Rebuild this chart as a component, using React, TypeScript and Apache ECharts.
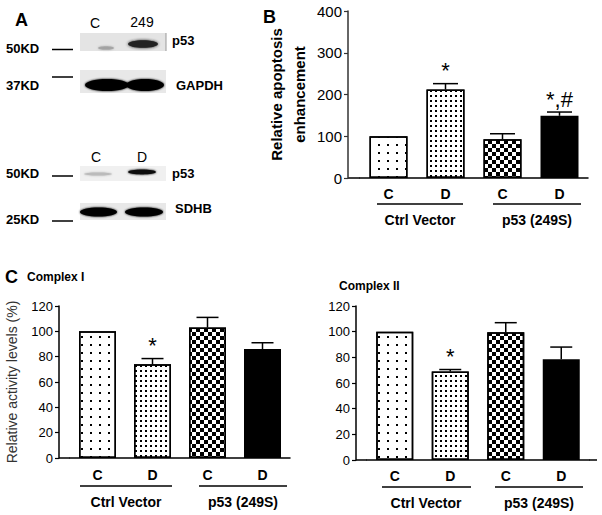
import React, { useEffect, useRef } from "react";
import * as echarts from "echarts";

const FONT = '"Liberation Sans", Arial, Helvetica, sans-serif';

// ---------- data ----------
const categories = ["C", "D", "C", "D"];
const groups = ["Ctrl Vector", "p53 (249S)"];

const apoptosisMean = [100, 212, 93, 149];
const apoptosisErr = [0, 14, 13, 9];
const apoptosisMarks = ["", "*", "", "*,#"];

const complexIMean = [100, 74, 103, 86];
const complexIErr = [0, 4.5, 8, 5];
const complexIMarks = ["", "*", "", ""];

const complexIIMean = [100, 69, 99.5, 78.5];
const complexIIErr = [0, 1.5, 7.5, 9.5];
const complexIIMarks = ["", "*", "", ""];

const apoptosisTicks = { min: 0, max: 400, interval: 100 };
const activityTicks = { min: 0, max: 120, interval: 20 };

// ---------- styles ----------
const sparseDots = { symbol: "rect", symbolSize: 1, dashArrayX: [2, 7], dashArrayY: [2, 6], color: "#000" };
const denseDots = { symbol: "rect", symbolSize: 1, dashArrayX: [1.3, 2.2], dashArrayY: [1.3, 2.2], color: "#000" };
const checker = { symbol: "rect", symbolSize: 1, dashArrayX: [[4, 4], [0, 4, 4, 0]], dashArrayY: [4, 0], color: "#000" };

const barStyles = [
  { color: "#fff", borderColor: "#000", borderWidth: 1.5, decal: sparseDots },
  { color: "#fff", borderColor: "#000", borderWidth: 1.5, decal: denseDots },
  { color: "#fff", borderColor: "#000", borderWidth: 1.5, decal: checker },
  { color: "#000", borderColor: "#000", borderWidth: 1.5 },
];

function barSeries(idx: number, values: number[], barWidth: number) {
  return {
    type: "bar",
    xAxisIndex: idx,
    yAxisIndex: idx,
    barWidth,
    data: values.map((v, i) => ({ value: v, itemStyle: barStyles[i] })),
    z: 2,
  };
}

function errSeries(idx: number, values: number[], errs: number[], marks: string[], capW: number, markSize: number) {
  return {
    type: "custom",
    xAxisIndex: idx,
    yAxisIndex: idx,
    z: 5,
    encode: { x: 0, y: 1 },
    data: values.map((v, i) => [i, v, errs[i]]),
    renderItem: (params: any, api: any) => {
      const x = api.value(0);
      const v = api.value(1);
      const e = api.value(2);
      const base = api.coord([x, v]);
      const top = api.coord([x, v + e]);
      const children: any[] = [];
      if (e > 0) {
        children.push({
          type: "line",
          shape: { x1: base[0], y1: base[1], x2: top[0], y2: top[1] },
          style: { stroke: "#000", lineWidth: 1.5 },
        });
        children.push({
          type: "line",
          shape: { x1: top[0] - capW / 2, y1: top[1], x2: top[0] + capW / 2, y2: top[1] },
          style: { stroke: "#000", lineWidth: 1.5 },
        });
      }
      const m = marks[params.dataIndex];
      if (m) {
        children.push({
          type: "text",
          x: top[0],
          y: top[1] - 2,
          style: {
            text: m,
            font: `${markSize}px ${FONT}`,
            fill: "#000",
            align: "center",
            verticalAlign: "bottom",
          },
        });
      }
      return { type: "group", children };
    },
  };
}

const grids = [
  { left: 360, top: 11, width: 228, height: 167 },
  { left: 70, top: 306, width: 220, height: 152 },
  { left: 367, top: 306, width: 222, height: 154 },
];

function xAxis(idx: number, fontSize: number, margin: number) {
  return {
    type: "category",
    gridIndex: idx,
    data: categories,
    axisLine: { show: true, lineStyle: { color: "#000", width: 1.5 } },
    axisTick: { show: false },
    axisLabel: { color: "#000", fontFamily: FONT, fontSize, fontWeight: "bold", margin },
  };
}

function yAxis(idx: number, ticks: any, offset: number, fontSize: number, lineColor: string, extra: any = {}) {
  return {
    type: "value",
    gridIndex: idx,
    min: ticks.min,
    max: ticks.max,
    interval: ticks.interval,
    offset,
    axisLine: { show: true, lineStyle: { color: lineColor, width: 1.5 } },
    axisTick: { show: true, length: 4, lineStyle: { color: lineColor, width: 1.2 } },
    axisLabel: { color: "#000", fontFamily: FONT, fontSize, margin: 6 },
    splitLine: { show: false },
    ...extra,
  };
}

function txt(text: string, x: number, y: number, size: number, bold = false, align = "left", color = "#000") {
  return {
    type: "text",
    x,
    y,
    style: {
      text,
      font: `${bold ? "bold " : ""}${size}px ${FONT}`,
      fill: color,
      align,
      verticalAlign: "middle",
    },
  };
}

function hline(x1: number, x2: number, y: number, w = 1.5, color = "#000") {
  return { type: "line", shape: { x1, y1: y, x2, y2: y }, style: { stroke: color, lineWidth: w } };
}

function ell(cx: number, cy: number, rx: number, ry: number, fill: string, blur = 2, opacity = 1) {
  return {
    type: "ellipse",
    shape: { cx, cy, rx, ry },
    style: { fill, opacity, shadowBlur: blur, shadowColor: fill },
  };
}

function rect(x: number, y: number, width: number, height: number, fill: string) {
  return { type: "rect", shape: { x, y, width, height }, style: { fill } };
}

export default function App() {
  const ref = useRef<HTMLDivElement>(null);
  useEffect(() => {
    if (!ref.current) return;
    const chart = echarts.init(ref.current, undefined, { renderer: "svg" });

    const graphic: any[] = [
      // panel letters
      txt("A", 15, 20, 18, true),
      txt("B", 263, 17, 18, true),
      txt("C", 5, 277, 18, true),
      txt("Complex I", 27, 277, 12, true),
      txt("Complex II", 339, 286, 12, true),

      // panel A blots
      rect(80, 33, 86, 18, "#e4e4e4"),
      { type: "line", shape: { x1: 166, y1: 33, x2: 166, y2: 51 }, style: { stroke: "#999", lineWidth: 1 } },
      ell(106, 48, 8, 1.8, "#999", 2, 0.7),
      ell(143, 44, 15, 3.8, "#222", 3),
      rect(80, 70, 86, 23, "#e8e8e8"),
      ell(107, 85, 22, 6, "#000", 2),
      ell(145, 85, 19, 6, "#000", 2),
      rect(80, 166, 86, 15, "#f0f0f0"),
      ell(98, 174, 14, 1.5, "#bbb", 2),
      ell(142, 172, 14, 2.4, "#111", 2),
      rect(80, 203, 86, 17, "#e8e8e8"),
      ell(98.5, 212, 18.5, 4.5, "#000", 2),
      ell(144, 212, 19, 4.5, "#000", 2),

      hline(52, 73, 49.5),
      hline(52, 73, 77),
      hline(52, 73, 176),
      hline(52, 73, 221),
      txt("50KD", 6, 48, 13, true),
      txt("37KD", 6, 85, 13, true),
      txt("50KD", 6, 173, 13, true),
      txt("25KD", 6, 219, 13, true),
      txt("p53", 172, 40, 13, true),
      txt("GAPDH", 176, 85, 13, true),
      txt("p53", 172, 173, 13, true),
      txt("SDHB", 175, 208, 13, true),
      txt("C", 95, 23, 14, false, "center"),
      txt("249", 142, 22, 14, false, "center"),
      txt("C", 96, 157, 14, false, "center"),
      txt("D", 142, 157, 14, false, "center"),

      // x-axis extensions to the y-axis
      hline(348, 360, 178),
      hline(59, 70, 458),
      hline(356, 367, 460),
      hline(589, 597, 460),

      // group underlines and labels
      hline(377, 463, 204),
      hline(493, 581, 204),
      txt(groups[0], 420, 220, 14, true, "center"),
      txt(groups[1], 537, 220, 14, true, "center"),
      hline(80, 172, 486),
      hline(199, 287, 486),
      txt(groups[0], 126, 502, 14, true, "center"),
      txt(groups[1], 243, 502, 14, true, "center"),
      hline(382, 471, 487),
      hline(495, 583, 487),
      txt(groups[0], 426, 503, 14, true, "center"),
      txt(groups[1], 539, 503, 14, true, "center"),
    ];

    chart.setOption({
      animation: false,
      backgroundColor: "#fff",
      grid: grids,
      xAxis: [xAxis(0, 14, 9), xAxis(1, 14, 10), xAxis(2, 14, 9)],
      yAxis: [
        yAxis(0, apoptosisTicks, 12, 15, "#333", {
          name: "Relative apoptosis\nenhancement",
          nameLocation: "middle",
          nameRotate: 90,
          nameGap: 37,
          nameTextStyle: { color: "#000", fontFamily: FONT, fontSize: 15, fontWeight: "bold", lineHeight: 23 },
        }),
        yAxis(1, activityTicks, 11, 13, "#000", {
          name: "Relative activity levels (%)",
          nameLocation: "middle",
          nameRotate: 90,
          nameGap: 40,
          nameTextStyle: { color: "#333", fontFamily: FONT, fontSize: 14 },
        }),
        yAxis(2, activityTicks, 11, 13, "#000"),
      ],
      series: [
        barSeries(0, apoptosisMean, 38),
        errSeries(0, apoptosisMean, apoptosisErr, apoptosisMarks, 25, 22),
        barSeries(1, complexIMean, 37),
        errSeries(1, complexIMean, complexIErr, complexIMarks, 22, 22),
        barSeries(2, complexIIMean, 37),
        errSeries(2, complexIIMean, complexIIErr, complexIIMarks, 22, 22),
      ],
      graphic,
    });
    return () => chart.dispose();
  }, []);
  return <div ref={ref} style={{ position: "absolute", left: 0, top: 0, width: 602, height: 515 }} />;
}
